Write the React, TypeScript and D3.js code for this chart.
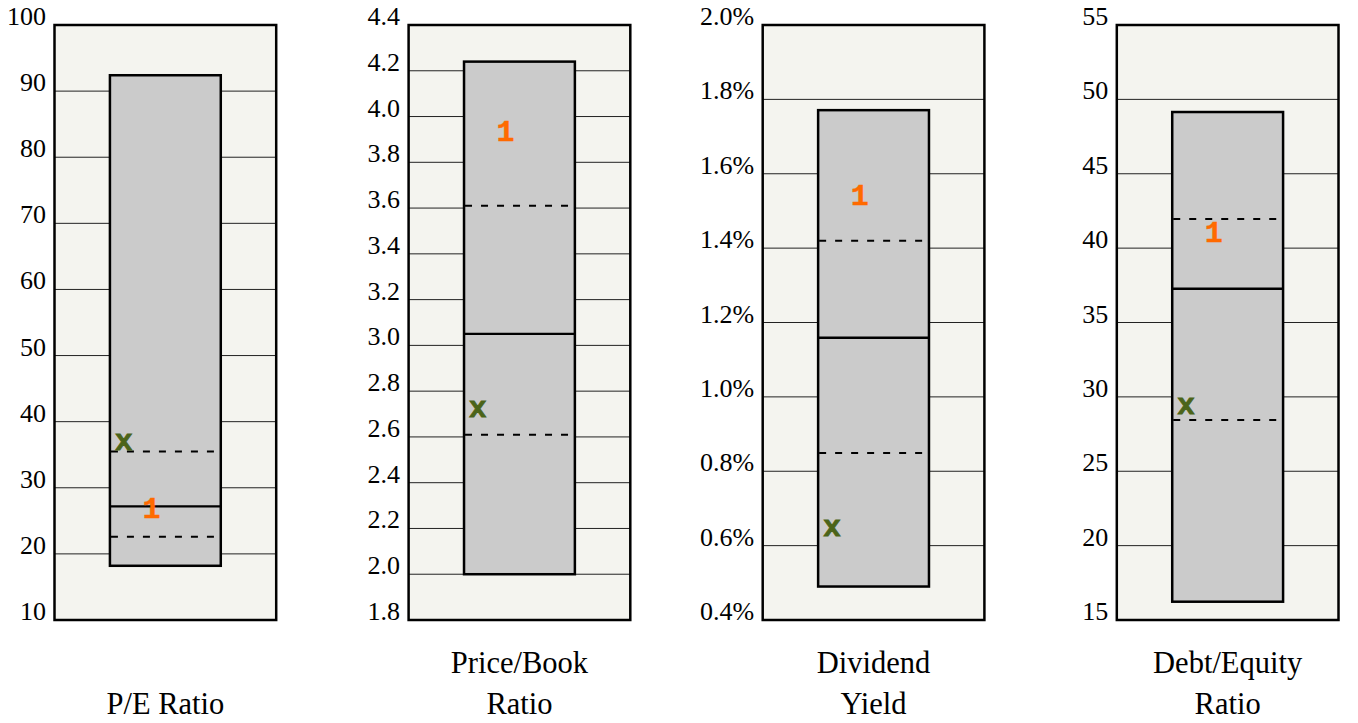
import React from "react";
import * as d3 from "d3";

const labelLines: string[][] = [["P/E Ratio"], ["Price/Book", "Ratio"], ["Dividend", "Yield"], ["Debt/Equity", "Ratio"]];
const axisMin = [10, 1.8, 0.4, 15];
const axisMax = [100, 4.4, 2.0, 55];
const axisStep = [10, 0.2, 0.2, 5];
const tickSuffix = ["", "", "%", ""];
const tickDecimals = [0, 1, 1, 0];

const boxLow = [18.2, 2.0, 0.49, 16.23];
const boxHigh = [92.4, 4.24, 1.771, 49.15];
const medians = [27.2, 3.05, 1.159, 37.27];
const upperDashed = [35.5, 3.61, 1.42, 41.96];
const lowerDashed = [22.6, 2.61, 0.849, 28.45];
const xMarker = [37.0, 2.72, 0.647, 29.39];
const oneMarker = [26.7, 3.93, 1.537, 40.93];

const W = 1358;
const H = 723;
const panelLeft0 = 54.5;
const panelStep = 354.1;
const panelWidth = 221.7;
const plotTop = 25;
const plotBottom = 620;

const BG = "#f4f4ef";
const BOX = "#cbcbcb";
const ORANGE = "#ff6a00";
const GREEN = "#4b6419";
const SERIF = "'Liberation Serif', 'Times New Roman', serif";
const MONO = "'Liberation Mono', 'Courier New', monospace";

function Panel({ i }: { i: number }) {
  const left = panelLeft0 + panelStep * i;
  const x = d3.scaleLinear().domain([0, 4]).range([left, left + panelWidth]);
  const y = d3.scaleLinear().domain([axisMin[i], axisMax[i]]).range([plotBottom, plotTop]);
  const n = Math.round((axisMax[i] - axisMin[i]) / axisStep[i]);
  const ticks = d3.range(n + 1).map((k) => +(axisMin[i] + k * axisStep[i]).toFixed(4));
  const fmt = (v: number) => d3.format(`.${tickDecimals[i]}f`)(v) + tickSuffix[i];
  const bx0 = x(1);
  const bx1 = x(3);
  const cx = x(2);
  const lines = labelLines[i];
  const lastBaseline = 714;
  const lineGap = 41;
  return (
    <g>
      <rect x={x(0)} y={plotTop} width={x(4) - x(0)} height={plotBottom - plotTop} fill={BG} />
      {ticks.slice(1, -1).map((t) => (
        <line key={"g" + t} x1={x(0)} x2={x(4)} y1={y(t)} y2={y(t)} stroke="#222" strokeWidth={1} />
      ))}
      <rect x={bx0} y={y(boxHigh[i])} width={bx1 - bx0} height={y(boxLow[i]) - y(boxHigh[i])} fill={BOX} stroke="#000" strokeWidth={2.5} />
      <line x1={bx0} x2={bx1} y1={y(medians[i])} y2={y(medians[i])} stroke="#000" strokeWidth={2.3} />
      <line x1={bx0 + 1} x2={bx1 - 6} y1={y(upperDashed[i])} y2={y(upperDashed[i])} stroke="#000" strokeWidth={2} strokeDasharray="7,9" />
      <line x1={bx0 + 1} x2={bx1 - 6} y1={y(lowerDashed[i])} y2={y(lowerDashed[i])} stroke="#000" strokeWidth={2} strokeDasharray="7,9" />
      <text x={x(1.25)} y={y(xMarker[i])} fill={GREEN} stroke={GREEN} strokeWidth={0.8} fontFamily={MONO} fontWeight="bold" fontSize={30} textAnchor="middle" dominantBaseline="central">x</text>
      <text x={x(1.75)} y={y(oneMarker[i])} fill={ORANGE} stroke={ORANGE} strokeWidth={0.4} fontFamily={MONO} fontWeight="bold" fontSize={30} textAnchor="middle" dominantBaseline="central">1</text>
      <rect x={x(0)} y={plotTop} width={x(4) - x(0)} height={plotBottom - plotTop} fill="none" stroke="#000" strokeWidth={2.5} />
      {ticks.map((t) => (
        <text key={"t" + t} x={x(0) - 8.5} y={y(t)} textAnchor="end" fontFamily={SERIF} fontSize={26} fill="#000">{fmt(t)}</text>
      ))}
      {lines.map((s, k) => (
        <text key={"l" + k} x={cx} y={lastBaseline - (lines.length - 1 - k) * lineGap} textAnchor="middle" fontFamily={SERIF} fontSize={30.5} fill="#000">{s}</text>
      ))}
    </g>
  );
}

export default function App() {
  return (
    <svg width={W} height={H} style={{ position: "absolute", left: 0, top: 0, background: "#fff" }}>
      {[0, 1, 2, 3].map((i) => (
        <Panel key={i} i={i} />
      ))}
    </svg>
  );
}
